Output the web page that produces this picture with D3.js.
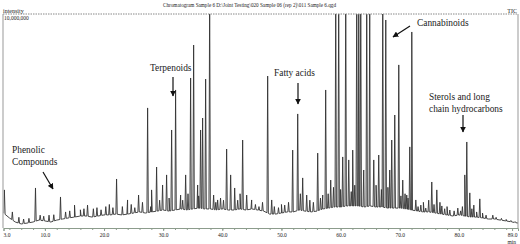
<!DOCTYPE html>
<html>
<head>
<meta charset="utf-8">
<script src="https://cdn.jsdelivr.net/npm/d3@7"></script>
<style>
  body { margin: 0; background: #fff; }
  text { font-family: "Liberation Serif", "DejaVu Serif", serif; fill: #222; }
</style>
</head>
<body>
<div id="chart"></div>
<script>
/* GC-MS chromatogram (TIC) */

const height = 244,
    width = 520,
    margin = ({ top: 14, right: 2, bottom: 16, left: 3.5 });

// baseline of the trace, one reading per minute (million counts)
const baseTimes = [3, 4, 5, 6, 7, 8, 9, 10, 11, 12, 13, 14, 15, 16, 17, 18, 19, 20, 21, 22, 23, 24, 25, 26, 27, 28, 29, 30,
    31, 32, 33, 34, 35, 36, 37, 38, 39, 40, 41, 42, 43, 44, 45, 46, 47, 48, 49, 50, 51, 52, 53, 54, 55, 56, 57, 58, 59, 60,
    61, 62, 63, 64, 65, 66, 67, 68, 69, 70, 71, 72, 73, 74, 75, 76, 77, 78, 79, 80, 81, 82, 83, 84, 85, 86, 87, 88, 89, 90];
const baseValues = [0.70, 0.47, 0.28, 0.19, 0.23, 0.28, 0.37, 0.33, 0.28, 0.37, 0.42, 0.47, 0.51, 0.56, 0.56, 0.51, 0.56, 0.61, 0.61, 0.65,
    0.61, 0.65, 0.70, 0.75, 0.70, 0.75, 0.79, 0.84, 0.79, 0.84, 0.89, 0.84, 0.89, 0.93, 0.89, 0.89, 0.84, 0.89, 0.84, 0.84,
    0.89, 0.84, 0.89, 0.84, 0.79, 0.65, 0.65, 0.70, 0.75, 0.75, 0.84, 0.79, 0.75, 0.79, 0.89, 0.93, 0.98, 0.98, 1.03, 1.03,
    1.03, 0.98, 1.03, 0.98, 0.98, 0.93, 0.93, 0.93, 0.89, 0.84, 0.79, 0.75, 0.75, 0.70, 0.65, 0.61, 0.56, 0.61, 0.56, 0.51,
    0.51, 0.47, 0.42, 0.42, 0.37, 0.33, 0.28, 0.23];

// peaks: retention time (min) and apex intensity (million counts), 11 = off scale
const peakTimes = [3.15, 4.5, 5.6, 6.4, 7.3, 8.41, 9.2, 9.8, 10.7, 11.5, 12.64, 13.5, 14.2, 15.01, 16.0, 16.6, 17.21, 18.2, 18.8, 19.5,
    20.3, 20.9, 21.5, 22.12, 23.1, 23.98, 24.6, 25.2, 25.84, 26.5, 27.37, 27.9, 28.04, 28.89, 29.4, 29.9, 30.58, 31.0, 31.43, 32.1,
    32.95, 33.3, 33.8, 34.2, 34.64, 35.15, 35.83, 36.0, 36.33, 36.67, 37.18, 37.86, 38.53, 38.9, 39.21, 39.7, 40.2, 40.73, 41.41, 42.09,
    42.6, 43.0, 43.44, 44.12, 44.96, 45.6, 46.2, 46.8, 47.67, 48.35, 48.8, 49.5, 50.0, 50.55, 51.2, 51.9, 52.75, 53.2, 53.59, 54.27,
    54.8, 55.4, 56.13, 56.6, 56.98, 57.48, 57.9, 58.33, 58.8, 59.18, 59.68, 60.0, 60.36, 60.87, 61.38, 61.8, 62.05, 62.4, 62.73, 63.07,
    63.41, 63.91, 64.42, 64.93, 65.61, 66.0, 66.45, 66.9, 67.13, 67.64, 68.0, 68.31, 68.65, 69.16, 69.84, 70.2, 70.51, 70.9, 71.19, 71.4,
    71.7, 72.04, 72.72, 73.1, 73.57, 74.0, 74.4, 74.9, 75.42, 75.8, 76.27, 76.8, 77.12, 77.6, 78.0, 78.47, 79.2, 79.82, 80.3, 80.6,
    81.0, 81.34, 81.85, 82.2, 82.53, 83.0, 83.54, 84.0, 84.6, 85.74, 86.3, 87.2, 88.0, 88.8, 89.5];
const peakHeights = [1.78, 0.75, 0.50, 0.42, 0.45, 1.87, 0.60, 0.55, 0.60, 0.62, 1.45, 0.75, 0.80, 1.07, 0.85, 0.90, 1.07, 0.90, 0.95, 0.85,
    1.00, 1.10, 0.95, 2.29, 1.00, 1.31, 1.10, 0.95, 1.54, 1.20, 5.61, 1.00, 1.78, 2.85, 1.30, 2.01, 2.48, 1.40, 4.58, 6.45,
    1.54, 1.30, 2.48, 1.60, 7.01, 8.55, 2.01, 1.50, 4.58, 5.14, 6.96, 11, 1.54, 1.20, 1.31, 1.40, 1.30, 3.69, 2.48, 1.87,
    1.30, 1.60, 4.11, 1.54, 1.31, 1.10, 1.00, 1.20, 7.10, 1.31, 1.00, 0.95, 1.10, 1.07, 1.20, 3.64, 5.33, 1.60, 2.34, 1.54,
    1.30, 1.20, 3.50, 1.40, 1.54, 6.45, 1.60, 2.24, 1.90, 11, 11, 1.80, 3.32, 11, 3.18, 1.70, 3.64, 2.00, 11, 11,
    11, 2.71, 11, 11, 3.18, 2.00, 3.41, 1.80, 11, 9.72, 1.90, 2.71, 4.11, 5.28, 7.62, 1.50, 2.24, 1.60, 1.54, 1.40,
    3.79, 9.16, 1.31, 1.00, 1.07, 1.20, 0.93, 1.30, 2.15, 1.10, 1.78, 1.20, 1.03, 0.90, 1.00, 0.84, 0.80, 0.93, 0.80, 1.00,
    2.48, 4.02, 1.64, 0.90, 1.07, 0.75, 1.36, 0.70, 0.60, 0.60, 0.50, 0.45, 0.40, 0.35, 0.30];

const tickLabels = [3, 10, 20, 30, 40, 50, 60, 70, 80, 89];

const svg = d3.select("#chart")
    .append("svg")
    .attr("width", width)
    .attr("height", height)
    .attr("viewBox", [0, 0, width, height]);

let x = d3.scaleLinear()
    .domain([3, 90])
    .range([margin.left, width - margin.right]);

let y = d3.scaleLinear()
    .domain([0, 10])
    .range([height - margin.bottom, margin.top]);

// baseline lookup so each peak's feet sit on the trace
let baseAt = d3.scaleLinear().domain(baseTimes).range(baseValues);

let pts = baseTimes.map((t, i) => ({ t: t, v: baseValues[i] }));
peakTimes.forEach((t, i) => {
    pts.push({ t: t - 0.12, v: baseAt(t - 0.12) });
    pts.push({ t: t, v: peakHeights[i] });
    pts.push({ t: t + 0.12, v: baseAt(t + 0.12) });
});
pts = pts.filter(d => d.t >= 3 && d.t <= 90).sort((a, b) => a.t - b.t);

svg.append("clipPath")
    .attr("id", "plot")
    .append("rect")
    .attr("x", margin.left)
    .attr("y", margin.top)
    .attr("width", width - margin.right - margin.left)
    .attr("height", height - margin.bottom - margin.top);

let line = d3.line()
    .x(d => x(d.t))
    .y(d => y(d.v));

svg.append("path")
    .datum(pts)
    .attr("clip-path", "url(#plot)")
    .attr("d", line)
    .attr("fill", "none")
    .attr("stroke", "#333")
    .attr("stroke-width", 0.9)
    .attr("stroke-linejoin", "round");

// frame: dotted top, plain sides
svg.append("line")
    .attr("x1", 3).attr("x2", 518)
    .attr("y1", y(10)).attr("y2", y(10))
    .attr("stroke", "#888")
    .attr("stroke-dasharray", "1.5,1");
svg.append("line")
    .attr("x1", 3).attr("x2", 3)
    .attr("y1", y(10)).attr("y2", y(0))
    .attr("stroke", "#999");
svg.append("line")
    .attr("x1", 518).attr("x2", 518)
    .attr("y1", y(10)).attr("y2", y(0))
    .attr("stroke", "#999");

// minor ticks
let minor = svg.append("g")
    .attr("transform", `translate(0,${y(0)})`)
    .call(d3.axisBottom(x).tickValues(d3.range(4, 90, 2)).tickSize(2).tickFormat(""));
minor.select(".domain").remove();
minor.selectAll("line").attr("stroke", "#8c9c8c");

let xAxis = svg.append("g")
    .attr("transform", `translate(0,${y(0)})`)
    .call(d3.axisBottom(x).tickValues(tickLabels).tickSize(3).tickPadding(2).tickFormat(d3.format(".1f")));
xAxis.select(".domain").attr("stroke", "#8c9c8c");
xAxis.selectAll("line").attr("stroke", "#8c9c8c");
xAxis.selectAll("text")
    .style("font-family", "Liberation Serif")
    .style("font-size", "5.5px")
    .attr("fill", "#333");
xAxis.selectAll(".tick").filter(d => d == 3).select("text").attr("dx", "3");

// header texts
svg.append("text")
    .attr("x", 163).attr("y", 7)
    .attr("font-size", "6px")
    .attr("textLength", 173)
    .attr("lengthAdjust", "spacingAndGlyphs")
    .text("Chromatogram Sample 6 D:\\Joint Testing\\020 Sample 06 (rep 2)\\011 Sample 6.qgd");
svg.append("text").attr("x", 3).attr("y", 12.5).attr("font-size", "6px").text("intensity");
svg.append("text").attr("x", 4).attr("y", 19.5).attr("font-size", "5.5px").text("10,000,000");
svg.append("text").attr("x", 517).attr("y", 12.5).attr("font-size", "6px").attr("text-anchor", "end").text("TIC");
svg.append("text").attr("x", 516).attr("y", 243.5).attr("font-size", "5.5px").attr("text-anchor", "end").text("min");

// arrow head
svg.append("defs").append("marker")
    .attr("id", "head")
    .attr("viewBox", "0 0 10 10")
    .attr("refX", 9).attr("refY", 5)
    .attr("markerWidth", 5).attr("markerHeight", 5)
    .attr("orient", "auto")
    .append("path")
    .attr("d", "M0,0L10,5L0,10z")
    .attr("fill", "#111");

const notes = [
    { lines: ["Phenolic", "Compounds"], x: 12, y: 153, from: [43, 172], to: [53, 189] },
    { lines: ["Terpenoids"], x: 150, y: 71, from: [173, 77], to: [173, 96] },
    { lines: ["Fatty acids"], x: 274, y: 76, from: [298, 83], to: [298, 104] },
    { lines: ["Cannabinoids"], x: 417, y: 26, from: [410, 26], to: [393, 37] },
    { lines: ["Sterols and long", "chain hydrocarbons"], x: 429, y: 100, from: [463, 115], to: [463, 132] }
];

notes.forEach(n => {
    let t = svg.append("text")
        .attr("x", n.x).attr("y", n.y)
        .attr("font-size", "9.4px");
    n.lines.forEach((s, i) => {
        t.append("tspan").attr("x", n.x).attr("dy", i ? 12 : 0).text(s);
    });
    svg.append("line")
        .attr("x1", n.from[0]).attr("y1", n.from[1])
        .attr("x2", n.to[0]).attr("y2", n.to[1])
        .attr("stroke", "#111")
        .attr("stroke-width", 1.2)
        .attr("marker-end", "url(#head)");
});
</script>
</body>
</html>
